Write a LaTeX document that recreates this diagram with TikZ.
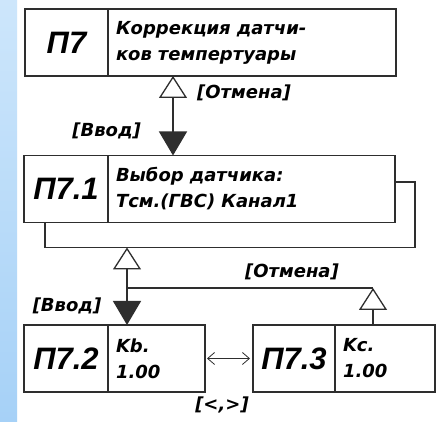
\documentclass[tikz,border=0pt]{standalone}
\usepackage{fontspec}
\setmainfont{DejaVu Sans}
\newfontfamily\gostfont{DejaVu Sans}[WordSpace=1.8]
\newfontfamily\numfont{Liberation Sans}
\usetikzlibrary{positioning,calc,arrows.meta}
\definecolor{sidebar}{HTML}{A6D1F7}
\definecolor{sidetop}{HTML}{CDE6FB}
\definecolor{frameline}{HTML}{2E2E2E}
\tikzset{
  frame/.style={draw=frameline,line width=1.3pt,inner sep=0pt,outer sep=0pt,minimum height=67pt},
  numpart/.style={frame,font=\numfont\bfseries\itshape\fontsize{31}{31}\selectfont},
  txtpart/.style={frame,font=\gostfont\bfseries\itshape\fontsize{18}{26}\selectfont,align=left,inner xsep=8pt},
  cmd/.style={font=\gostfont\bfseries\itshape\fontsize{18}{18}\selectfont,inner sep=0pt},
  link/.style={draw=frameline,line width=1.3pt},
  cancel/.tip={Triangle[open,length=22pt,width=28pt]},
  enter/.tip={Triangle[length=24pt,width=28pt]},
}
\begin{document}
\begin{tikzpicture}[x=1pt,y=1pt]
\fill[white] (0,0) rectangle (442,422);
\shade[top color=sidetop,bottom color=sidebar] (0,0) rectangle (17,422);
\useasboundingbox (0,0) rectangle (442,422);
\node[numpart,minimum width=83pt] (p7n) at (66.5,379.5) {П7};
\node[txtpart,text width=272pt,right=0pt of p7n] (p7t) {Коррекция датчи-\\ков темпертуары};
\node[numpart,minimum width=84pt] (p71n) at (66,233) {П7.1};
\node[txtpart,text width=271pt,right=0pt of p71n] (p71t) {Выбор датчика:\\Тсм.(ГВС) Канал1};
\node[numpart,minimum width=84pt] (p72n) at (66,63.5) {П7.2};
\node[txtpart,text width=81pt,right=0pt of p72n] (p72t) {Kb.\\1.00};
\node[numpart,minimum width=82pt] (p73n) at (294,63.5) {П7.3};
\node[txtpart,text width=84pt,right=0pt of p73n] (p73t) {Kc.\\1.00};
\draw[link,cancel-enter] ($(p7t.south west)+(65,0)$) -- ($(p71t.north west)+(65,0)$);
\node[cmd,anchor=west] (c1) at (197,329) {[Отмена]};
\node[cmd,anchor=east] (e1) at (141,291) {[Ввод]};
\coordinate (loopL) at ($(p71n.south)+(-21,-25)$);
\draw[link] ($(p71n.south)+(-21,0)$) -- (loopL) -| ($(p71t.east)+(20,7)$) -- ($(p71t.east)+(0,7)$);
\coordinate (down) at ($(p72t.north west)+(19,0)$);
\coordinate (up) at ($(p73t.north west)+(38,0)$);
\draw[link,cancel-enter] (down |- loopL) -- (down);
\draw[link] ($(down)+(0,37)$) -- ($(up)+(0,37)$);
\draw[link,cancel-] ($(up)+(0,37)$) -- (up);
\node[cmd] (c2) at (292,150) {[Отмена]};
\node[cmd] (e2) at (67,116) {[Ввод]};
\draw[frameline,line width=0.8pt,{Straight Barb[length=7pt,width=12pt]}-{Straight Barb[length=7pt,width=12pt]}] ([xshift=2pt]p72t.east) -- ([xshift=-3pt]p73n.west);
\node[cmd] (keys) at (222,17) {[<,>]};
\end{tikzpicture}
\end{document}
